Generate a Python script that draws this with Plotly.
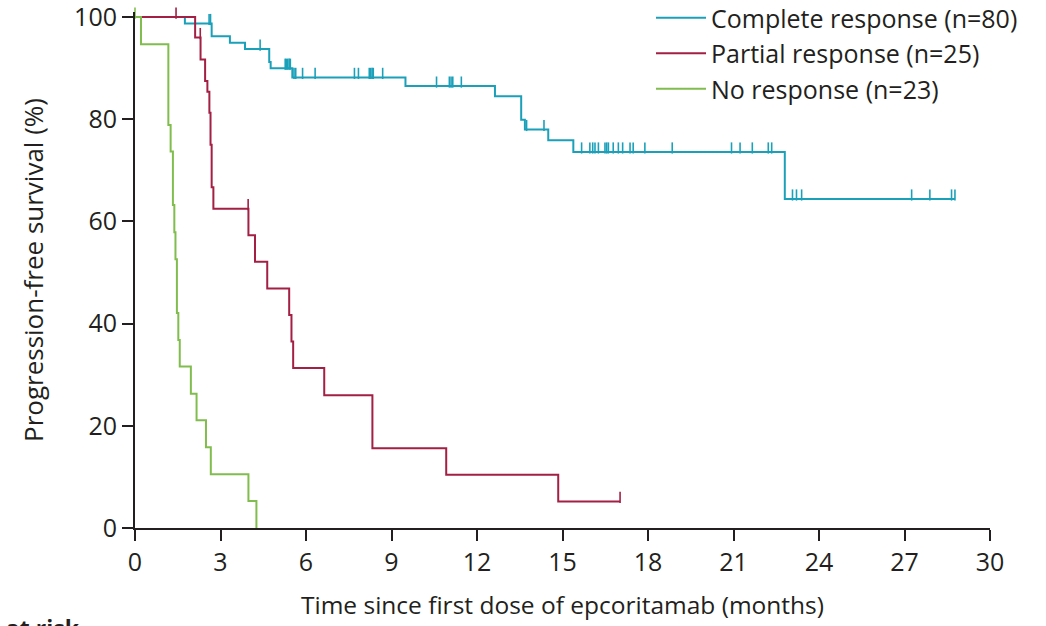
import plotly.graph_objects as go

# Kaplan-Meier progression-free survival by best response to epcoritamab

# Complete response (n=80)
cr_time = [0, 1.75, 2.69, 3.33, 3.86, 4.71, 4.76, 5.52, 9.49, 12.63, 13.55, 13.68,
           14.50, 15.38, 22.80, 28.77]
cr_pfs = [100, 98.75, 96.25, 95.0, 93.75, 91.2, 90.0, 88.2, 86.5, 84.5, 79.9, 78.0,
          75.9, 73.6, 64.4, 64.4]
cr_censored = [2.60, 2.65, 4.39, 5.27, 5.31, 5.36, 5.41, 5.45, 5.58, 5.64, 5.88, 6.32,
               7.70, 7.84, 8.22, 8.27, 8.32, 8.36, 8.69, 10.58, 11.03, 11.09, 11.15,
               11.45, 13.74, 14.35, 15.67, 15.96, 16.06, 16.14, 16.26, 16.49, 16.55,
               16.61, 16.78, 16.96, 17.11, 17.37, 17.48, 17.89, 18.85, 20.93, 21.23,
               21.66, 22.22, 22.34, 23.07, 23.21, 23.39, 27.25, 27.89, 28.65, 28.77]

# Partial response (n=25)
pr_time = [0, 2.11, 2.30, 2.46, 2.54, 2.61, 2.65, 2.69, 2.75, 3.98, 4.21, 4.64, 5.41,
           5.49, 5.55, 6.64, 8.33, 10.92, 14.85, 17.02]
pr_pfs = [100, 96.0, 91.7, 87.5, 85.4, 81.3, 75.0, 66.7, 62.5, 57.3, 52.1, 46.9, 41.7,
          36.5, 31.3, 26.0, 15.6, 10.4, 5.2, 5.2]
pr_censored = [1.44, 2.29, 3.97, 17.02]

# No response (n=23)
nr_time = [0, 0.21, 1.17, 1.25, 1.33, 1.38, 1.42, 1.47, 1.52, 1.57, 1.96, 2.16, 2.49,
           2.66, 3.98, 4.26]
nr_pfs = [100, 94.7, 78.9, 73.7, 63.2, 57.9, 52.6, 42.1, 36.8, 31.6, 26.3, 21.1, 15.8,
          10.5, 5.3, 0]
nr_censored = [0]

groups = [
    ("Complete response (n=80)", cr_time, cr_pfs, cr_censored, "#1ba0ba"),
    ("Partial response (n=25)", pr_time, pr_pfs, pr_censored, "#a31f43"),
    ("No response (n=23)", nr_time, nr_pfs, nr_censored, "#80bd4e"),
]

x_ticks = list(range(0, 31, 3))
y_ticks = list(range(0, 101, 20))

W, H = 1046, 626
M = dict(l=135, r=56, t=12, b=98, autoexpand=False)
PLOT_H = H - M["t"] - M["b"]
PLOT_W = W - M["l"] - M["r"]
Y_MAX = 101
px_per_pct = PLOT_H / Y_MAX
TICK_PX = 8


def level_at(times, values, t):
    """Survival estimate of a right-continuous step function at time t."""
    v = values[0]
    for ti, vi in zip(times, values):
        if ti <= t:
            v = vi
        else:
            break
    return v


fig = go.Figure()
for i, (name, times, values, censored, color) in enumerate(groups):
    fig.add_trace(go.Scatter(
        x=times, y=values, mode="lines", name=name,
        line=dict(color=color, width=2, shape="hv"),
        legendgroup=f"g{i}", cliponaxis=False,
    ))
    # censoring marks: short upward ticks sitting on the curve
    fig.add_trace(go.Scatter(
        x=censored,
        y=[level_at(times, values, t) + TICK_PX / 2 / px_per_pct for t in censored],
        mode="markers", showlegend=False, legendgroup=f"g{i}", cliponaxis=False,
        marker=dict(symbol="line-ns", size=TICK_PX,
                    line=dict(color=color, width=1.6)),
        hoverinfo="skip",
    ))

ink = "#231f20"
tick_font = dict(family="Open Sans", size=25, color=ink)

fig.update_layout(
    width=W, height=H, margin=M,
    paper_bgcolor="white", plot_bgcolor="white",
    font=tick_font,
    showlegend=True,
    legend=dict(
        x=(651 - M["l"]) / PLOT_W, xanchor="left",
        y=(H - M["b"] + 5) / PLOT_H, yanchor="top",
        font=dict(family="Open Sans", size=25, color=ink),
        bgcolor="rgba(0,0,0,0)", tracegroupgap=0, itemwidth=50,
    ),
    xaxis=dict(
        range=[0, 30], tickvals=x_ticks, ticktext=[str(v) for v in x_ticks],
        showgrid=False, zeroline=False,
        showline=True, linecolor=ink, linewidth=2,
        ticks="outside", ticklen=11, tickwidth=2, tickcolor=ink,
        tickfont=tick_font, ticklabeloverflow="allow",
        title=dict(text="Time since first dose of epcoritamab (months)",
                   font=dict(family="Open Sans", size=24.5, color=ink), standoff=20),
    ),
    yaxis=dict(
        range=[0, Y_MAX], tickvals=y_ticks, ticktext=[str(v) for v in y_ticks],
        showgrid=False, zeroline=False,
        showline=True, linecolor=ink, linewidth=2,
        ticks="outside", ticklen=11, tickwidth=2, tickcolor=ink,
        tickfont=tick_font, ticklabeloverflow="allow",
        title=dict(text="Progression-free survival (%)",
                   font=dict(family="Open Sans", size=26, color=ink), standoff=23),
    ),
)

# heading of the numbers-at-risk table that follows below the chart
fig.add_annotation(
    text="<b>Number at risk</b>", xref="paper", yref="paper",
    x=(82 - M["l"]) / PLOT_W, xanchor="right",
    y=(H - M["b"] - 610) / PLOT_H, yanchor="top",
    showarrow=False, font=dict(family="Open Sans", size=23, color=ink),
)

fig.write_html("out.html")
